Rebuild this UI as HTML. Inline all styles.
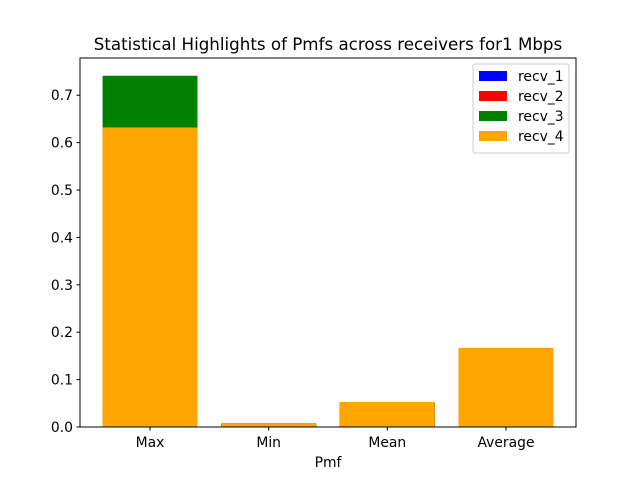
<!DOCTYPE html>
<html><head><meta charset="utf-8"><style>
body{margin:0;background:#fff;font-family:"Liberation Sans","DejaVu Sans",sans-serif;}
svg text{font-family:"DejaVu Sans","Liberation Sans",sans-serif;}
</style></head><body>
<svg id="c" width="640" height="480" xmlns="http://www.w3.org/2000/svg"></svg>
<script>
const categories=["Max","Min","Mean","Average"];
const seriesNames=["recv_1","recv_2","recv_3","recv_4"];
const recv1=[0.60,0.007,0.050,0.160];
const recv2=[0.62,0.007,0.051,0.162];
const recv3=[0.741,0.008,0.052,0.165];
const recv4=[0.632,0.008,0.053,0.167];
const colors=["#0000ff","#ff0000","#008000","#ffa500"];
const yTicks=[0,0.1,0.2,0.3,0.4,0.5,0.6,0.7];
const L=80,R=576,T=58,B=427,ymax=0.7785,xmin=-0.59,xmax=3.59;
const sx=v=>L+(v-xmin)/(xmax-xmin)*(R-L);
const sy=v=>B-v/ymax*(B-T);
const s=document.getElementById('c'),NS="http://www.w3.org/2000/svg";
function mk(t,a,p){const e=document.createElementNS(NS,t);for(const k in a)e.setAttribute(k,a[k]);(p||s).appendChild(e);return e;}
const all=[recv1,recv2,recv3,recv4];
all.forEach((ser,si)=>{ser.forEach((v,i)=>{
 const r=mk('rect',{x:sx(i-0.4),y:sy(v),width:sx(i+0.4)-sx(i-0.4),height:B-sy(v),fill:colors[si]});
 
 
});});
const ax=mk('rect',{x:L,y:T,width:R-L,height:B-T,fill:'none',stroke:'#000','stroke-width':1});

yTicks.forEach(v=>{const y=sy(v);mk('line',{x1:L-3.5,x2:L,y1:y,y2:y,stroke:'#000'});
 const t=mk('text',{x:L-7,y:y+5,'text-anchor':'end','font-size':13.9});t.textContent=v.toFixed(1);
 });
categories.forEach((c,i)=>{const x=sx(i);mk('line',{x1:x,x2:x,y1:B,y2:B+3.5,stroke:'#000'});
 const t=mk('text',{x:x,y:B+20,'text-anchor':'middle','font-size':13.9});t.textContent=c;
 });
let t=mk('text',{x:328,y:467,'text-anchor':'middle','font-size':13.9});t.textContent='Pmf';

t=mk('text',{x:328,y:50,'text-anchor':'middle','font-size':16.7});t.textContent='Statistical Highlights of Pmfs across receivers for1 Mbps';

const lg=mk('g',{});
mk('rect',{x:473,y:64,width:96,height:89,rx:2,fill:'#fff',stroke:'#ccc'},lg);
seriesNames.forEach((n,i)=>{const y=76+i*20;
 mk('rect',{x:479,y:y-5,width:28,height:10,fill:colors[i]},lg);
 const tt=mk('text',{x:518,y:y+5,'font-size':13.9},lg);tt.textContent=n;
 });
</script>
</body></html>
